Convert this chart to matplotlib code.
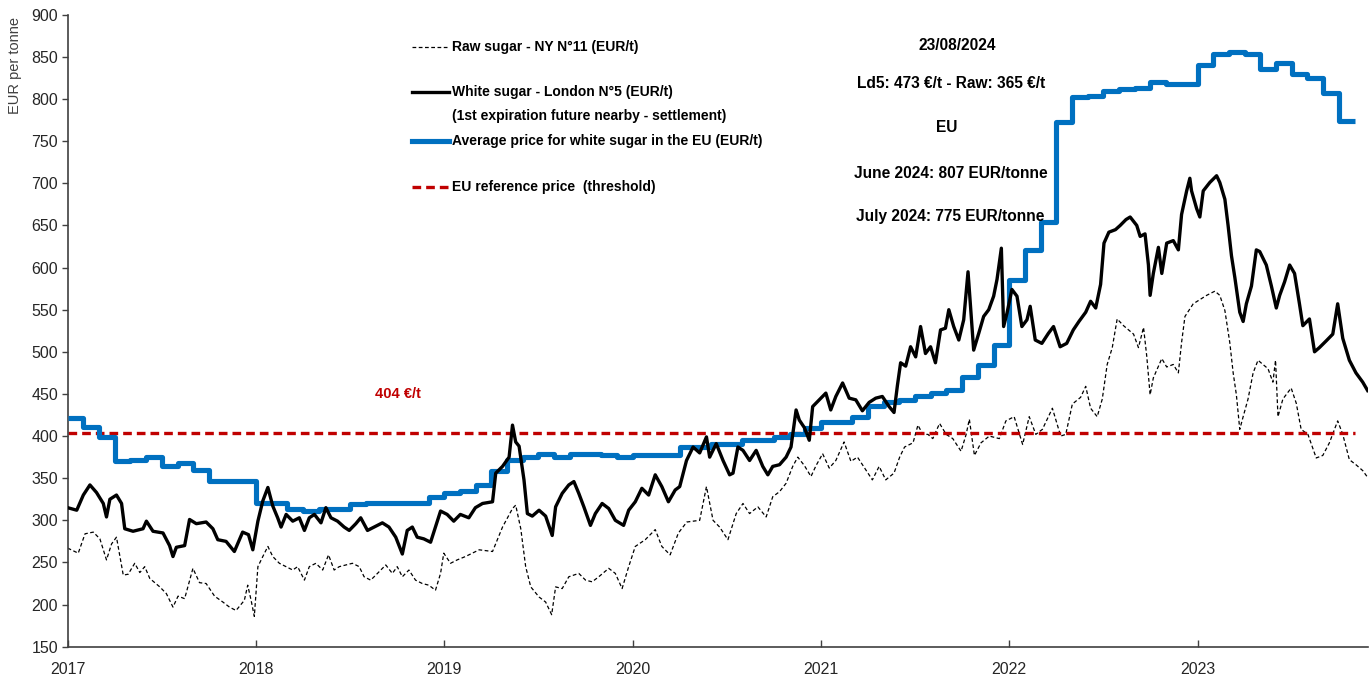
import numpy as np
import matplotlib
matplotlib.use("Agg")
import matplotlib.pyplot as plt
from matplotlib.lines import Line2D

FONT = ["Liberation Sans", "DejaVu Sans"]
plt.rcParams["font.family"] = FONT

W, H = 1369, 683

# ── data ─────────────────────────────────────────────────────────────────────
YEARS = [2017, 2018, 2019, 2020, 2021, 2022, 2023]
THRESHOLD = 404

# EU average white sugar price, monthly steps from Jan 2017
eu_avg = [421, 411, 399, 371, 372, 375, 364, 368, 360, 347, 347, 347,
          320, 320, 314, 311, 314, 314, 319, 320, 321, 320, 320, 328,
          332, 335, 342, 359, 372, 375, 379, 375, 379, 379, 377, 375,
          378, 377, 377, 387, 387, 391, 391, 395, 395, 399, 403, 409,
          417, 417, 423, 436, 441, 443, 447, 451, 455, 470, 484, 508,
          585, 621, 654, 773, 802, 804, 810, 812, 813, 820, 818, 818,
          840, 853, 856, 853, 836, 843, 830, 825, 807, 774]

white_t = [2017.000, 2017.048, 2017.083, 2017.118, 2017.153, 2017.189, 2017.206, 2017.224,
           2017.259, 2017.286, 2017.303, 2017.347, 2017.400, 2017.418, 2017.453, 2017.506,
           2017.541, 2017.559, 2017.577, 2017.621, 2017.647, 2017.683, 2017.735, 2017.771,
           2017.797, 2017.841, 2017.885, 2017.929, 2017.960, 2017.983, 2018.010, 2018.036,
           2018.063, 2018.089, 2018.115, 2018.133, 2018.160, 2018.195, 2018.230, 2018.257,
           2018.283, 2018.310, 2018.345, 2018.371, 2018.398, 2018.433, 2018.468, 2018.495,
           2018.530, 2018.556, 2018.592, 2018.627, 2018.671, 2018.706, 2018.742, 2018.777,
           2018.803, 2018.830, 2018.856, 2018.891, 2018.927, 2018.953, 2018.980, 2019.015,
           2019.050, 2019.085, 2019.130, 2019.165, 2019.203, 2019.256, 2019.273, 2019.309,
           2019.344, 2019.362, 2019.379, 2019.397, 2019.423, 2019.441, 2019.467, 2019.503,
           2019.538, 2019.573, 2019.591, 2019.626, 2019.661, 2019.688, 2019.714, 2019.741,
           2019.776, 2019.802, 2019.838, 2019.873, 2019.908, 2019.952, 2019.979, 2020.014,
           2020.049, 2020.085, 2020.120, 2020.155, 2020.190, 2020.226, 2020.250, 2020.286,
           2020.321, 2020.356, 2020.392, 2020.409, 2020.444, 2020.480, 2020.515, 2020.533,
           2020.559, 2020.586, 2020.621, 2020.656, 2020.691, 2020.718, 2020.744, 2020.780,
           2020.815, 2020.841, 2020.868, 2020.885, 2020.912, 2020.938, 2020.956, 2020.991,
           2021.026, 2021.052, 2021.079, 2021.115, 2021.150, 2021.185, 2021.220, 2021.256,
           2021.291, 2021.326, 2021.362, 2021.388, 2021.406, 2021.423, 2021.450, 2021.476,
           2021.503, 2021.529, 2021.555, 2021.582, 2021.608, 2021.635, 2021.661, 2021.679,
           2021.705, 2021.732, 2021.758, 2021.781, 2021.811, 2021.838, 2021.864, 2021.891,
           2021.917, 2021.935, 2021.958, 2021.970, 2021.988, 2022.014, 2022.041, 2022.067,
           2022.094, 2022.111, 2022.138, 2022.173, 2022.208, 2022.235, 2022.270, 2022.305,
           2022.340, 2022.370, 2022.406, 2022.432, 2022.459, 2022.485, 2022.503, 2022.529,
           2022.564, 2022.589, 2022.620, 2022.642, 2022.677, 2022.695, 2022.721, 2022.739,
           2022.748, 2022.765, 2022.792, 2022.810, 2022.836, 2022.871, 2022.898, 2022.915,
           2022.942, 2022.959, 2022.968, 2022.995, 2023.012, 2023.030, 2023.065, 2023.101,
           2023.118, 2023.145, 2023.162, 2023.180, 2023.198, 2023.224, 2023.242, 2023.259,
           2023.286, 2023.312, 2023.330, 2023.365, 2023.392, 2023.418, 2023.436, 2023.462,
           2023.489, 2023.515, 2023.541, 2023.559, 2023.594, 2023.621, 2023.647, 2023.683,
           2023.718, 2023.744, 2023.771, 2023.806, 2023.841, 2023.877, 2023.903]
white_v = [315, 312, 330, 342, 333, 320, 304, 325,
           330, 320, 290, 287, 290, 299, 287, 285,
           270, 257, 268, 270, 301, 296, 298, 290,
           277, 275, 263, 286, 283, 265, 299, 323,
           339, 317, 303, 292, 307, 299, 303, 288,
           303, 307, 297, 315, 303, 299, 292, 288,
           296, 303, 288, 292, 297, 292, 280, 260,
           288, 292, 280, 278, 274, 292, 311, 307,
           299, 307, 303, 315, 320, 322, 356, 364,
           375, 413, 393, 388, 348, 308, 305, 312,
           305, 282, 316, 332, 342, 346, 332, 316,
           294, 308, 320, 314, 300, 294, 312, 322,
           338, 330, 354, 340, 322, 336, 340, 371,
           387, 380, 399, 375, 391, 371, 354, 356,
           387, 383, 371, 383, 364, 354, 364, 366,
           375, 387, 431, 419, 410, 395, 435, 443,
           451, 431, 447, 463, 445, 443, 430, 440,
           445, 447, 435, 428, 460, 487, 483, 506,
           494, 530, 498, 506, 487, 526, 528, 550,
           530, 514, 538, 595, 502, 522, 542, 550,
           566, 586, 623, 530, 546, 574, 566, 530,
           538, 554, 514, 510, 522, 530, 506, 510,
           526, 536, 547, 560, 552, 580, 629, 642,
           645, 650, 657, 660, 650, 637, 640, 603,
           567, 593, 624, 593, 629, 632, 621, 663,
           691, 706, 691, 670, 660, 691, 701, 709,
           701, 681, 650, 614, 588, 547, 536, 557,
           578, 621, 619, 603, 578, 552, 567, 583,
           603, 593, 557, 531, 539, 500, 505, 513,
           521, 557, 516, 490, 475, 464, 454]

raw_t = [2017.000, 2017.056, 2017.092, 2017.136, 2017.171, 2017.206, 2017.233, 2017.259,
         2017.295, 2017.321, 2017.356, 2017.383, 2017.409, 2017.436, 2017.489, 2017.524,
         2017.559, 2017.586, 2017.621, 2017.665, 2017.700, 2017.735, 2017.780, 2017.824,
         2017.859, 2017.894, 2017.938, 2017.956, 2017.974, 2017.991, 2018.010, 2018.036,
         2018.063, 2018.089, 2018.124, 2018.160, 2018.195, 2018.221, 2018.257, 2018.283,
         2018.318, 2018.354, 2018.385, 2018.415, 2018.442, 2018.477, 2018.512, 2018.548,
         2018.574, 2018.609, 2018.645, 2018.689, 2018.724, 2018.750, 2018.777, 2018.812,
         2018.847, 2018.883, 2018.918, 2018.953, 2018.980, 2018.997, 2019.033, 2019.068,
         2019.112, 2019.148, 2019.185, 2019.256, 2019.309, 2019.362, 2019.379, 2019.406,
         2019.432, 2019.459, 2019.503, 2019.538, 2019.570, 2019.591, 2019.626, 2019.661,
         2019.714, 2019.750, 2019.785, 2019.820, 2019.873, 2019.908, 2019.944, 2019.979,
         2020.014, 2020.067, 2020.120, 2020.155, 2020.199, 2020.243, 2020.288, 2020.356,
         2020.392, 2020.427, 2020.462, 2020.506, 2020.550, 2020.586, 2020.621, 2020.665,
         2020.709, 2020.744, 2020.780, 2020.815, 2020.850, 2020.877, 2020.912, 2020.947,
         2020.974, 2021.009, 2021.044, 2021.079, 2021.123, 2021.159, 2021.194, 2021.238,
         2021.273, 2021.309, 2021.344, 2021.388, 2021.418, 2021.444, 2021.489, 2021.515,
         2021.541, 2021.568, 2021.594, 2021.630, 2021.665, 2021.700, 2021.744, 2021.771,
         2021.788, 2021.815, 2021.850, 2021.894, 2021.947, 2021.982, 2022.026, 2022.071,
         2022.106, 2022.141, 2022.176, 2022.229, 2022.273, 2022.300, 2022.335, 2022.379,
         2022.406, 2022.432, 2022.467, 2022.494, 2022.520, 2022.547, 2022.573, 2022.607,
         2022.660, 2022.686, 2022.713, 2022.730, 2022.748, 2022.765, 2022.810, 2022.836,
         2022.871, 2022.898, 2022.915, 2022.933, 2022.977, 2023.012, 2023.048, 2023.092,
         2023.118, 2023.145, 2023.171, 2023.189, 2023.206, 2023.224, 2023.242, 2023.268,
         2023.295, 2023.321, 2023.347, 2023.374, 2023.400, 2023.414, 2023.427, 2023.453,
         2023.497, 2023.524, 2023.550, 2023.586, 2023.630, 2023.665, 2023.700, 2023.744,
         2023.771, 2023.806, 2023.841, 2023.877, 2023.903]
raw_v = [267, 261, 284, 286, 278, 253, 272, 280,
         235, 236, 249, 238, 245, 231, 221, 213,
         197, 210, 207, 243, 226, 225, 210, 203,
         197, 193, 205, 223, 205, 186, 245, 257,
         269, 257, 249, 245, 241, 245, 229, 245,
         249, 241, 259, 241, 245, 247, 249, 245,
         233, 229, 237, 247, 237, 245, 233, 241,
         229, 225, 223, 217, 237, 261, 249, 253,
         257, 261, 265, 263, 292, 314, 318, 290,
         245, 221, 209, 203, 188, 221, 219, 233,
         237, 229, 227, 233, 243, 237, 219, 245,
         269, 277, 289, 269, 259, 285, 298, 300,
         340, 300, 292, 277, 308, 320, 308, 316,
         304, 328, 334, 344, 364, 375, 365, 352,
         365, 379, 362, 371, 393, 370, 375, 360,
         348, 364, 348, 356, 375, 387, 392, 413,
         402, 402, 397, 415, 402, 397, 382, 402,
         420, 377, 392, 400, 397, 418, 423, 390,
         423, 402, 408, 433, 400, 402, 438, 446,
         459, 433, 423, 444, 485, 505, 539, 531,
         521, 505, 529, 495, 449, 469, 492, 482,
         485, 475, 511, 542, 557, 562, 567, 572,
         567, 549, 511, 475, 449, 408, 423, 444,
         475, 490, 485, 480, 464, 490, 423, 444,
         457, 439, 408, 402, 374, 377, 392, 418,
         402, 372, 366, 359, 351]

# ── figure ───────────────────────────────────────────────────────────────────
fig = plt.figure(figsize=(W / 100, H / 100), dpi=100, facecolor="white")
ax = fig.add_axes([67.7 / W, 1 - 646.7 / H, (1368 - 67.7) / W, (646.7 - 14.8) / H])

BLUE, RED, GREY = "#0070c0", "#c00000", "#404040"

m_edges = 2017 + np.arange(len(eu_avg) + 1) / 12
ax.step(m_edges, eu_avg + [eu_avg[-1]], where="post", color=BLUE, lw=3.7, zorder=3,
        solid_capstyle="butt")
ax.plot(white_t, white_v, color="black", lw=2.4, zorder=4, solid_joinstyle="round")
ax.plot(raw_t, raw_v, color="black", lw=0.9, ls=(0, (3, 2)), zorder=2)
ax.plot([m_edges[0], m_edges[-1]], [THRESHOLD, THRESHOLD], color=RED, lw=2.4,
        ls=(0, (2.6, 1.5)), zorder=2)

ax.set_xlim(2017, 2023.905)
ax.set_ylim(150, 900)
ax.set_yticks(np.arange(150, 901, 50))
ax.set_xticks(YEARS)
ax.set_xticklabels([str(y) for y in YEARS])
for s in ("top", "right"):
    ax.spines[s].set_visible(False)
for s in ("left", "bottom"):
    ax.spines[s].set_color(GREY)
    ax.spines[s].set_linewidth(1.2)
ax.tick_params(axis="y", direction="out", length=4, width=1, color=GREY,
               labelsize=11.5, labelcolor="#262626", pad=3)
ax.tick_params(axis="x", direction="in", length=5, width=1, color=GREY,
               labelsize=11.5, labelcolor="#262626", pad=11)

fig.text(15 / W, 1 - 65 / H, "EUR per tonne", rotation=90, ha="center", va="center",
         fontsize=10.5, color=GREY)

# ── legend drawn by hand ─────────────────────────────────────────────────────
def fx(px):
    return px / W


def fy(py):
    return 1 - py / H


leg = [
    (47, dict(color="black", lw=0.9, ls=(0, (3, 2))), "Raw sugar - NY N°11 (EUR/t)"),
    (92, dict(color="black", lw=2.4), "White sugar - London N°5 (EUR/t)"),
    (141, dict(color=BLUE, lw=3.7), "Average price for white sugar in the EU (EUR/t)"),
    (187, dict(color=RED, lw=2.4, ls=(0, (2.6, 1.5))), "EU reference price  (threshold)"),
]
for py, kw, label in leg:
    fig.add_artist(Line2D([fx(412), fx(449)], [fy(py), fy(py)], transform=fig.transFigure, **kw))
    fig.text(fx(452), fy(py), label, ha="left", va="center", fontsize=10,
             fontweight="bold", color="black")
fig.text(fx(452), fy(116), "(1st expiration future nearby - settlement)", ha="left",
         va="center", fontsize=10, fontweight="bold", color="black")

# ── annotations ──────────────────────────────────────────────────────────────
notes = [
    (957, 45, "23/08/2024"),
    (951, 84, "Ld5: 473 €/t - Raw: 365 €/t"),
    (947, 128, "EU"),
    (951, 173, "June 2024: 807 EUR/tonne"),
    (950, 216, "July 2024: 775 EUR/tonne"),
]
for px, py, txt in notes:
    fig.text(fx(px), fy(py), txt, ha="center", va="center", fontsize=11.2,
             fontweight="bold", color="black")

fig.text(fx(398), fy(394), f"{THRESHOLD} €/t", ha="center", va="center", fontsize=10.5,
         fontweight="bold", color=RED)

fig.savefig("out.png", dpi=100, facecolor="white")
